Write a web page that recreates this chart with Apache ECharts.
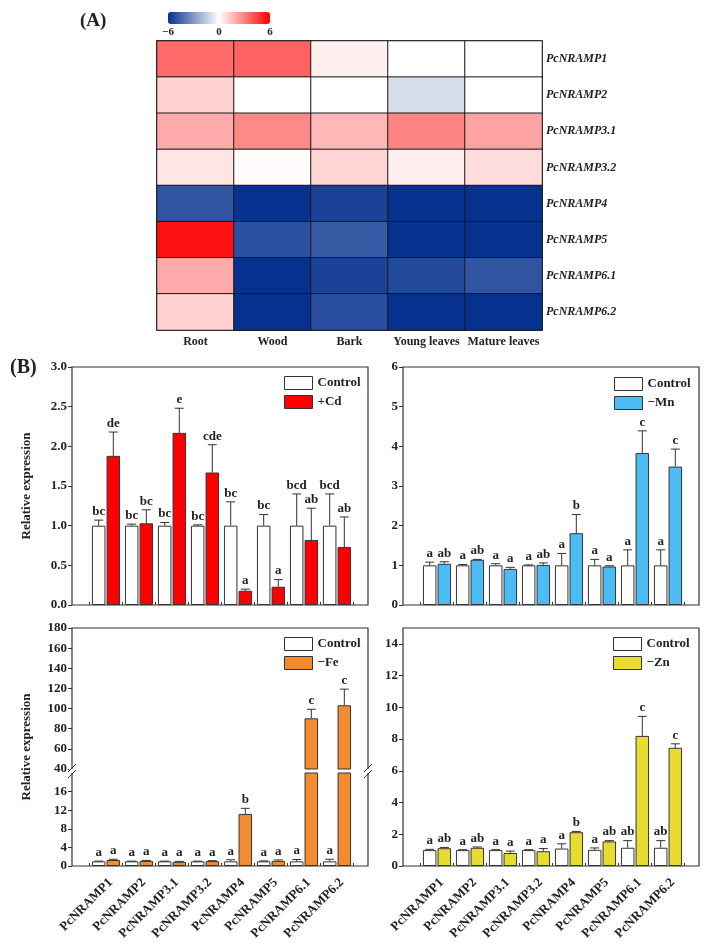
<!DOCTYPE html>
<html><head><meta charset="utf-8">
<script src="https://cdn.jsdelivr.net/npm/echarts@6/dist/echarts.min.js"></script>
<style>html,body{margin:0;padding:0;background:#fff}#c{width:709px;height:946px}</style>
</head><body><div id="c"></div>
<script>
// ---------- DATA ----------
const genes = ['PcNRAMP1','PcNRAMP2','PcNRAMP3.1','PcNRAMP3.2','PcNRAMP4','PcNRAMP5','PcNRAMP6.1','PcNRAMP6.2'];
const tissues = ['Root','Wood','Bark','Young leaves','Mature leaves'];
// heatmap (log2 fold) per tissue, rows = genes
const heatRoot   = [3.5, 1.1, 2.0, 0.6, -5.0, 5.6, 2.0, 1.1];
const heatWood   = [3.7, 0.0, 2.8, 0.1, -6.0, -5.1, -6.0, -6.0];
const heatBark   = [0.35, 0.0, 1.7, 1.0, -5.5, -4.8, -5.5, -5.15];
const heatYoung  = [0.0, -1.0, 2.9, 0.4, -6.0, -6.0, -5.3, -6.0];
const heatMature = [0.0, 0.0, 2.2, 0.8, -6.0, -6.0, -5.0, -6.0];
const heatTicks = [-6, 0, 6];

const cdControl    = [1, 1, 1, 1, 1, 1, 1, 1];
const cdControlErr = [0.07, 0.02, 0.04, 0.01, 0.30, 0.14, 0.40, 0.40];
const cdControlSig = ['bc','bc','bc','bc','bc','bc','bcd','bcd'];
const cdTreat      = [1.88, 1.03, 2.17, 1.67, 0.18, 0.23, 0.82, 0.73];
const cdTreatErr   = [0.30, 0.17, 0.31, 0.35, 0.02, 0.09, 0.40, 0.38];
const cdTreatSig   = ['de','bc','e','cde','a','a','ab','ab'];

const mnControl    = [1, 1, 1, 1, 1, 1, 1, 1];
const mnControlErr = [0.08, 0.02, 0.04, 0.01, 0.30, 0.15, 0.39, 0.39];
const mnControlSig = ['a','a','a','a','a','a','a','a'];
const mnTreat      = [1.04, 1.14, 0.91, 1.01, 1.81, 0.97, 3.83, 3.49];
const mnTreatErr   = [0.05, 0.01, 0.04, 0.05, 0.47, 0.02, 0.56, 0.44];
const mnTreatSig   = ['ab','ab','a','ab','b','a','c','c'];

const feControl    = [1, 1, 1, 1, 1, 1, 1, 1];
const feControlErr = [0.05, 0.05, 0.05, 0.05, 0.35, 0.10, 0.40, 0.45];
const feControlSig = ['a','a','a','a','a','a','a','a'];
const feTreat      = [1.3, 1.1, 0.9, 1.05, 11.2, 1.1, 90.3, 103.3];
const feTreatErr   = [0.15, 0.10, 0.10, 0.10, 1.2, 0.2, 9.0, 16.0];
const feTreatSig   = ['a','a','a','a','b','a','c','c'];

const znControl    = [1.0, 1.0, 1.0, 1.0, 1.1, 1.02, 1.15, 1.15];
const znControlErr = [0.05, 0.03, 0.03, 0.03, 0.30, 0.12, 0.45, 0.45];
const znControlSig = ['a','a','a','a','a','a','ab','ab'];
const znTreat      = [1.12, 1.15, 0.82, 0.93, 2.13, 1.55, 8.2, 7.45];
const znTreatErr   = [0.05, 0.05, 0.12, 0.17, 0.05, 0.05, 1.23, 0.25];
const znTreatSig   = ['ab','ab','a','a','b','ab','c','c'];

const cdTicks = [0, 0.5, 1.0, 1.5, 2.0, 2.5, 3.0];
const mnTicks = [0, 1, 2, 3, 4, 5, 6];
const feUpperTicks = [40, 60, 80, 100, 120, 140, 160, 180];
const feLowerTicks = [0, 4, 8, 12, 16];
const znTicks = [0, 2, 4, 6, 8, 10, 12, 14];

// ---------- LAYOUT / STYLE ----------
const SERIF = '"Liberation Serif", "Times New Roman", serif';
const BAR_W = 13.5, BAR_GAP_PX = 1.1;
const INSET_L = 17.5, BAR_GRID_W = 264, FRAME_W = 296;
const INK = '#222';

const grid = [], xAxis = [], yAxis = [], series = [], legend = [], graphic = [];

// heatmap
grid.push({left:157, top:41, width:385, height:289, show:true, borderColor:'#111', borderWidth:1.5, backgroundColor:'transparent'});
xAxis.push({gridIndex:0, type:'category', data:tissues, axisLine:{show:false}, axisTick:{show:false},
  axisLabel:{interval:0, fontFamily:SERIF, fontWeight:'bold', fontSize:12, color:INK, margin:6}});
yAxis.push({gridIndex:0, type:'category', data:genes, inverse:true, position:'right', axisLine:{show:false}, axisTick:{show:false},
  axisLabel:{interval:0, fontFamily:SERIF, fontWeight:'bold', fontStyle:'italic', fontSize:12, color:INK, margin:4}});
const heatCols = [heatRoot, heatWood, heatBark, heatYoung, heatMature];
const heatData = [];
heatCols.forEach((col, ci) => col.forEach((v, ri) => heatData.push([ci, ri, v])));
series.push({type:'heatmap', xAxisIndex:0, yAxisIndex:0, data:heatData, silent:true,
  itemStyle:{borderColor:'#1a1a1a', borderWidth:1}, emphasis:{disabled:true}});

// colorbar axis
grid.push({left:168, top:12, width:102, height:12});
xAxis.push({gridIndex:1, type:'value', min:-6, max:6, axisLine:{show:false}, axisTick:{show:false}, splitLine:{show:false},
  axisLabel:{customValues:heatTicks, fontFamily:SERIF, fontWeight:'bold', fontSize:11, color:INK, margin:3,
    formatter: v => (v < 0 ? '\u2212' + Math.abs(v) : String(v))}});
yAxis.push({gridIndex:1, type:'value', show:false});

function errSeries(xi, yi, vals, errs, sigs, side) {
  return {
    type:'custom', xAxisIndex:xi, yAxisIndex:yi, z:5, silent:true,
    data: vals.map((v, i) => [i, v, errs[i]]),
    renderItem(params, api) {
      const i = api.value(0), v = api.value(1), e = api.value(2);
      const cs = params.coordSys;
      const pb = api.coord([i, v]), pt = api.coord([i, v + e]);
      if (pb[1] < cs.y - 0.5 || pb[1] > cs.y + cs.height + 0.5) return;
      if (pt[1] < cs.y - 2) return;
      const x = pb[0] + side * (BAR_W + BAR_GAP_PX) / 2;
      return {type:'group', children:[
        {type:'line', shape:{x1:x, y1:pb[1], x2:x, y2:pt[1]}, style:{stroke:'#333', lineWidth:1}},
        {type:'line', shape:{x1:x-4.5, y1:pt[1], x2:x+4.5, y2:pt[1]}, style:{stroke:'#333', lineWidth:1}},
        {type:'text', x:x, y:pt[1] - 2, style:{text:sigs[params.dataIndex], align:'center', verticalAlign:'bottom',
          font:'bold 13px "Liberation Serif"', fill:INK}}
      ]};
    }
  };
}

function buildPanel(p) {
  const fi = grid.length;
  grid.push({left:p.left, top:p.top, width:FRAME_W, height:p.height, show:true, borderColor:'#333', borderWidth:1.2, backgroundColor:'transparent'});
  xAxis.push({gridIndex:fi, type:'value', show:false});
  yAxis.push({gridIndex:fi, type:'value', show:!!p.yname, name:p.yname ? 'Relative expression' : '',
    nameLocation:'middle', nameGap:39, nameTextStyle:{fontFamily:SERIF, fontWeight:'bold', fontSize:13, color:INK},
    axisLine:{show:false}, axisTick:{show:false}, axisLabel:{show:false}, splitLine:{show:false}});
  p.segs.forEach(s => {
    const gi = grid.length;
    grid.push({left:p.left + INSET_L, top:s.top, width:BAR_GRID_W, height:s.height});
    const xi = xAxis.length;
    xAxis.push({gridIndex:gi, type:'category', data:genes, axisLine:{show:false},
      axisTick:{show:s.xticks !== false, inside:true, length:3, lineStyle:{color:'#333'}},
      axisLabel:{show:!!s.xlabels, rotate:45, interval:0, align:'right', verticalAlign:'top',
        fontFamily:SERIF, fontWeight:'bold', fontSize:13, color:INK, margin:10}});
    const yi = yAxis.length;
    yAxis.push({gridIndex:gi, type:'value', min:s.min, max:s.max, offset:INSET_L,
      axisLine:{show:false}, splitLine:{show:false},
      axisTick:{show:true, length:4, customValues:s.ticks, lineStyle:{color:'#333'}},
      axisLabel:{customValues:s.ticks, fontFamily:SERIF, fontWeight:'bold', fontSize:13, color:INK, margin:5,
        formatter: s.fmt || (v => String(v))}});
    series.push({type:'bar', name:'Control', xAxisIndex:xi, yAxisIndex:yi, data:p.ctrl, barWidth:BAR_W,
      barGap:(BAR_GAP_PX / BAR_W * 100) + '%', clip:true, silent:true,
      itemStyle:{color:'#ffffff', borderColor:'#333', borderWidth:1}});
    series.push({type:'bar', name:p.label, xAxisIndex:xi, yAxisIndex:yi, data:p.treat, barWidth:BAR_W,
      barGap:(BAR_GAP_PX / BAR_W * 100) + '%', clip:true, silent:true,
      itemStyle:{color:p.color, borderColor:'#333', borderWidth:1}});
    series.push(errSeries(xi, yi, p.ctrl, p.ctrlErr, p.ctrlSig, -1));
    series.push(errSeries(xi, yi, p.treat, p.treatErr, p.treatSig, 1));
  });
  legend.push({data:['Control', p.label], left:p.legendLeft, top:p.legendTop, orient:'vertical',
    itemWidth:28, itemHeight:13, itemGap:5, padding:0, selectedMode:false, icon:'rect',
    itemStyle:{borderColor:'#333', borderWidth:1},
    textStyle:{fontFamily:SERIF, fontWeight:'bold', fontSize:13, color:INK}});
}

buildPanel({label:'+Cd', color:'#ff0000', left:72, top:367, height:238, yname:true, legendLeft:284, legendTop:376,
  ctrl:cdControl, ctrlErr:cdControlErr, ctrlSig:cdControlSig, treat:cdTreat, treatErr:cdTreatErr, treatSig:cdTreatSig,
  segs:[{top:367, height:238, min:0, max:3, ticks:cdTicks, fmt:v => v.toFixed(1), xlabels:false}]});
buildPanel({label:'\u2212Mn', color:'#4cbcf4', left:403, top:367, height:238, yname:false, legendLeft:614, legendTop:377,
  ctrl:mnControl, ctrlErr:mnControlErr, ctrlSig:mnControlSig, treat:mnTreat, treatErr:mnTreatErr, treatSig:mnTreatSig,
  segs:[{top:367, height:238, min:0, max:6, ticks:mnTicks, xlabels:false}]});
buildPanel({label:'\u2212Fe', color:'#f28c31', left:72, top:628, height:238, yname:true, legendLeft:284, legendTop:637,
  ctrl:feControl, ctrlErr:feControlErr, ctrlSig:feControlSig, treat:feTreat, treatErr:feTreatErr, treatSig:feTreatSig,
  segs:[{top:628, height:141, min:40, max:180, ticks:feUpperTicks, xlabels:false, xticks:false},
        {top:773, height:93, min:0, max:20, ticks:feLowerTicks, xlabels:true}]});
buildPanel({label:'\u2212Zn', color:'#e9dc31', left:403, top:628, height:238, yname:false, legendLeft:613, legendTop:637,
  ctrl:znControl, ctrlErr:znControlErr, ctrlSig:znControlSig, treat:znTreat, treatErr:znTreatErr, treatSig:znTreatSig,
  segs:[{top:628, height:238, min:0, max:15, ticks:znTicks, xlabels:true}]});

// axis-break marks for the -Fe panel
[72, 72 + FRAME_W].forEach(x => {
  graphic.push({type:'rect', shape:{x:x-3, y:769, width:6, height:4}, style:{fill:'#fff'}, z:100});
  graphic.push({type:'line', shape:{x1:x-4, y1:772, x2:x+4, y2:764}, style:{stroke:'#333', lineWidth:1}, z:101});
  graphic.push({type:'line', shape:{x1:x-4, y1:778, x2:x+4, y2:770}, style:{stroke:'#333', lineWidth:1}, z:101});
});
graphic.push({type:'text', left:80, top:12, style:{text:'(A)', font:'bold 19px "Liberation Serif"', fill:INK}});
graphic.push({type:'text', left:10, top:358, style:{text:'(B)', font:'bold 20px "Liberation Serif"', fill:INK}});

const chart = echarts.init(document.getElementById('c'), null, {renderer:'canvas'});
chart.setOption({
  animation:false,
  backgroundColor:'#ffffff',
  grid, xAxis, yAxis, series, legend, graphic,
  visualMap:[{type:'continuous', min:-6, max:6, seriesIndex:0, orient:'horizontal', left:168, top:12,
    itemWidth:12, itemHeight:102, calculable:false, padding:0, hoverLink:false,
    inRange:{color:['#06318f', '#ffffff', '#ff0000']}}]
});
</script></body></html>
